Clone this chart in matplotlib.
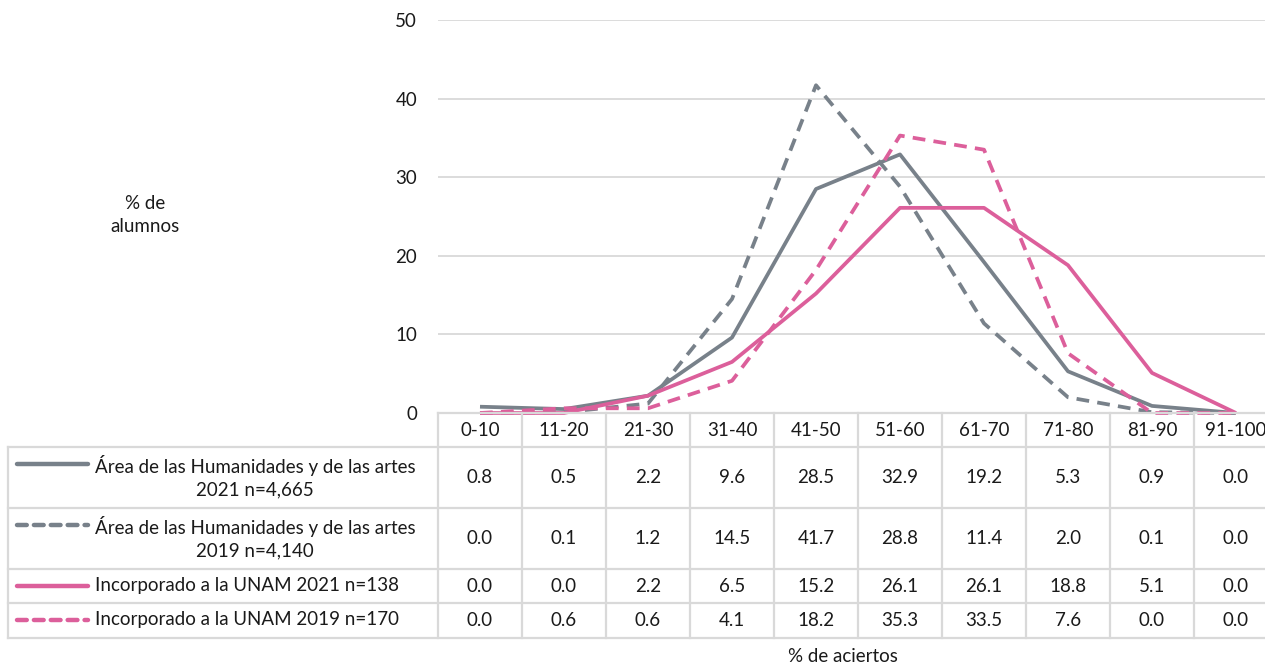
import matplotlib.pyplot as plt
from matplotlib.transforms import blended_transform_factory

plt.rcParams['font.family'] = ['Lato', 'DejaVu Sans']

# data
categories = ['0-10', '11-20', '21-30', '31-40', '41-50', '51-60', '61-70', '71-80', '81-90', '91-100']
area_2021 = [0.8, 0.5, 2.2, 9.6, 28.5, 32.9, 19.2, 5.3, 0.9, 0.0]
area_2019 = [0.0, 0.1, 1.2, 14.5, 41.7, 28.8, 11.4, 2.0, 0.1, 0.0]
inc_2021 = [0.0, 0.0, 2.2, 6.5, 15.2, 26.1, 26.1, 18.8, 5.1, 0.0]
inc_2019 = [0.0, 0.6, 0.6, 4.1, 18.2, 35.3, 33.5, 7.6, 0.0, 0.0]
labels = ['Área de las Humanidades y de las artes\n2021 n=4,665',
          'Área de las Humanidades y de las artes\n2019 n=4,140',
          'Incorporado a la UNAM 2021 n=138',
          'Incorporado a la UNAM 2019 n=170']

GRAY = '#78818a'
PINK = '#dc5f9b'
GRID = '#d9d9d9'
TXT = '#1a1a1a'
FS = 13.5
W, H = 1265, 666


def fx(x):
    return x / W


def fy(y):
    return 1 - y / H


fig = plt.figure(figsize=(W / 100, H / 100), dpi=100)
ax = fig.add_axes([fx(438), fy(413), fx(1278) - fx(438), fy(20) - fy(413)])

series = [
    (area_2021, GRAY, '-'),
    (area_2019, GRAY, '--'),
    (inc_2021, PINK, '-'),
    (inc_2019, PINK, '--'),
]
x = list(range(len(categories)))
for vals, col, ls in series:
    line, = ax.plot(x, vals, color=col, linestyle=ls, linewidth=2.7, clip_on=False,
                    solid_capstyle='butt')
    if ls == '--':
        line.set_dashes((3.4, 2.2))

ax.set_xlim(-0.5, len(categories) - 0.5)
ax.set_ylim(0, 50)
ax.set_yticks([0, 10, 20, 30, 40, 50])
ax.tick_params(axis='y', length=0, pad=15, labelsize=FS, labelcolor=TXT)
ax.set_xticks([])
ax.grid(axis='y', color=GRID, linewidth=1.3)
ax.set_axisbelow(True)
for s in ax.spines.values():
    s.set_visible(False)

fig.text(fx(145), fy(215), '% de\nalumnos', ha='center', va='center', fontsize=FS,
         color=TXT, linespacing=1.45)

# table below the axes
tr = blended_transform_factory(ax.transData, fig.transFigure)
row_edges = [413, 447, 508, 569, 603, 638]
n = len(categories)

# horizontal lines
for i, y in enumerate(row_edges):
    x0 = 438 if i == 0 else 8
    fig.add_artist(plt.Line2D([fx(x0), fx(1278)], [fy(y), fy(y)], color=GRID,
                              linewidth=1.6, transform=fig.transFigure))
# vertical lines
for k in range(n + 1):
    ax.plot([k - 0.5, k - 0.5], [fy(413), fy(638)], color=GRID, linewidth=1.6,
            transform=tr, clip_on=False)
fig.add_artist(plt.Line2D([fx(8), fx(8)], [fy(447), fy(638)], color=GRID,
                          linewidth=1.6, transform=fig.transFigure))

# header
for k, cat in enumerate(categories):
    ax.text(k, fy(430), cat, transform=tr, ha='center', va='center', fontsize=FS,
            color=TXT)

# data rows
for r, (vals, col, ls) in enumerate(series):
    ymid = (row_edges[r + 1] + row_edges[r + 2]) / 2
    for k, v in enumerate(vals):
        ax.text(k, fy(ymid), f'{v:.1f}', transform=tr, ha='center', va='center',
                fontsize=FS, color=TXT)

# legend keys in the first column
key_y = [464, 525, 586, 620]
for r, (vals, col, ls) in enumerate(series):
    key = plt.Line2D([fx(17), fx(88)], [fy(key_y[r]), fy(key_y[r])], color=col,
                     linestyle=ls, linewidth=3.2, transform=fig.transFigure,
                     solid_capstyle='round', dash_capstyle='round')
    if ls == '--':
        key.set_dashes((2.2, 1.6))
    fig.add_artist(key)
    fig.text(fx(95), fy(key_y[r]) + 0.0135, labels[r], ha='left', va='top',
             multialignment='center', fontsize=FS, color=TXT, linespacing=1.4)

fig.text(fx(843), fy(656), '% de aciertos', ha='center', va='center', fontsize=FS,
         color=TXT)

fig.savefig('out.png', dpi=100)
